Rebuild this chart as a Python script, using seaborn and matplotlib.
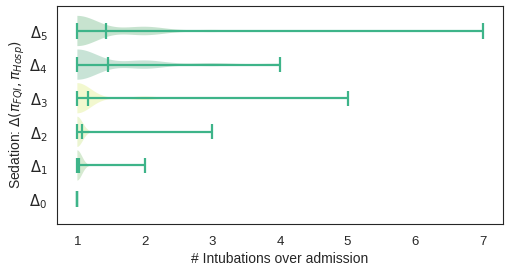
import numpy as np
import matplotlib
matplotlib.use('Agg')
import matplotlib.pyplot as plt
import seaborn as sns

# number of patients per intubation count (1..7) for each sedation level
intubations = [1, 2, 3, 4, 5, 6, 7]
counts = {
    'd0': [100, 0, 0, 0, 0, 0, 0],
    'd1': [98, 2, 0, 0, 0, 0, 0],
    'd2': [94, 5, 1, 0, 0, 0, 0],
    'd3': [88, 10, 1, 0, 1, 0, 0],
    'd4': [70, 19, 7, 4, 0, 0, 0],
    'd5': [72, 20, 5, 1, 1, 0, 1],
}
labels = [r'$\Delta_0$', r'$\Delta_1$', r'$\Delta_2$', r'$\Delta_3$', r'$\Delta_4$', r'$\Delta_5$']

# kde bandwidth (in intubations) and body colour per row
bandwidths = [0.05, 0.07, 0.08, 0.2, 0.3, 0.3]
body_colors = ['#7abc69', '#7abc69', '#c0de69', '#d7e862', '#4aa57a', '#48a562']
line_color = '#3eb489'


def kde_stats(values, bw):
    values = np.asarray(values, dtype=float)
    lo, hi = values.min(), values.max()
    if hi == lo:
        coords = np.array([lo])
        vals = np.array([1.0])
    else:
        coords = np.linspace(lo, hi, 200)
        vals = np.exp(-0.5 * ((coords[:, None] - values[None, :]) / bw) ** 2).sum(axis=1)
    return dict(coords=coords, vals=vals, mean=values.mean(),
                median=np.median(values), min=lo, max=hi)


sns.set_style('white')
plt.rcParams['font.family'] = ['Liberation Sans', 'DejaVu Sans']
plt.rcParams['mathtext.fontset'] = 'dejavusans'

fig, ax = plt.subplots(figsize=(5.1, 2.7), dpi=100)
fig.subplots_adjust(left=0.112, right=0.986, bottom=0.17, top=0.978)

stats = []
for i, key in enumerate(['d0', 'd1', 'd2', 'd3', 'd4', 'd5']):
    samples = np.repeat(intubations, counts[key])
    stats.append(kde_stats(samples, bandwidths[i]))

parts = ax.violin(stats, positions=range(6), orientation='horizontal', widths=0.9,
                  showmeans=True, showextrema=True)
for body, c in zip(parts['bodies'], body_colors):
    body.set_facecolor(c)
    body.set_edgecolor('none')
    body.set_alpha(0.3)
for k in ['cmeans', 'cmins', 'cmaxes', 'cbars']:
    parts[k].set_color(line_color)
    parts[k].set_linewidth(1.6)

ax.set_yticks(range(6))
ax.set_yticklabels(labels, fontsize=10.5)
ax.tick_params(axis='x', labelsize=9.5, pad=5)
ax.set_xlabel('# Intubations over admission', fontsize=10, labelpad=3)
ax.set_ylabel(r'Sedation: $\Delta(\pi_{FQI}, \pi_{Hosp})$', fontsize=10, labelpad=2)

plt.savefig('out.png', dpi=100)
